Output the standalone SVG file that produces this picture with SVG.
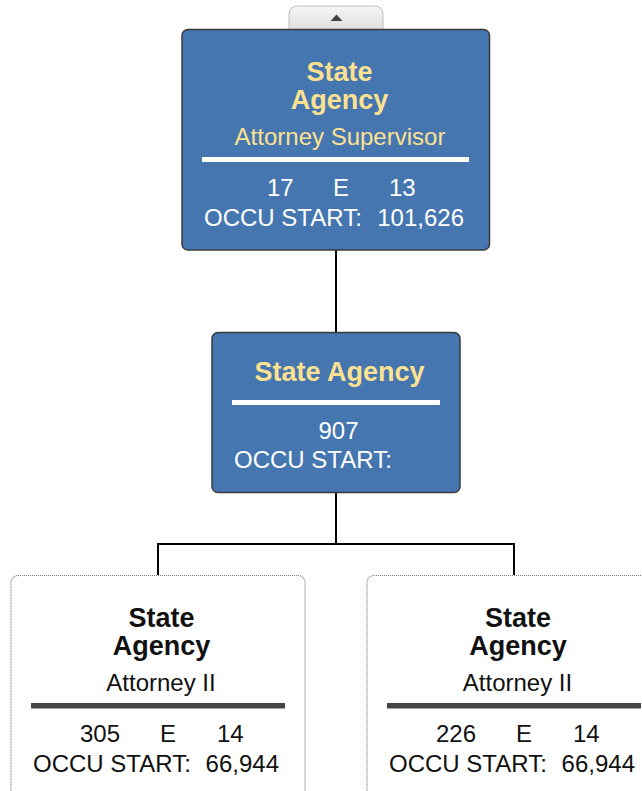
<svg xmlns="http://www.w3.org/2000/svg" width="642" height="791" viewBox="0 0 642 791">
<defs>
<linearGradient id="tabg" x1="0" y1="0" x2="0" y2="1">
<stop offset="0" stop-color="#f7f7f7"/>
<stop offset="1" stop-color="#dedede"/>
</linearGradient>
</defs>
<style>
text{font-family:"Liberation Sans",Arial,sans-serif;white-space:pre}
.blue{fill:#4676b0;stroke:#3b3b3b;stroke-width:1.5}
.white{fill:#ffffff;stroke:#7a7a7a;stroke-width:1.2;stroke-dasharray:1 1}
.tb{font-weight:bold;font-size:27px;text-anchor:middle}
.t{font-size:24px}
.c{text-anchor:middle}
.e{text-anchor:end}
.y{fill:#fbe190}
.w{fill:#ffffff}
.k{fill:#111111}
.conn{stroke:#000;stroke-width:2;fill:none}
</style>
<g id="connectors">
<path class="conn" d="M336 250V332M336 493V544M158 544H514M158 543V575M514 543V575"/>
</g>
<g id="tab">
<path d="M289 30V14a8 8 0 0 1 8-8h78a8 8 0 0 1 8 8V30Z" fill="url(#tabg)" stroke="#bdbdbd" stroke-width="1"/>
<path d="M330.5 21L336.5 14.5L342.5 21Z" fill="#444"/>
</g>
<g id="node-top">
<rect class="blue" x="182" y="29.5" width="307.5" height="220.5" rx="6"/>
<text class="tb y" x="339.5" y="81">State</text>
<text class="tb y" x="339.5" y="109">Agency</text>
<text class="t y c" x="340" y="145">Attorney Supervisor</text>
<rect x="202" y="157" width="267" height="5" fill="#fff"/>
<text class="t w" x="267" y="196">17</text>
<text class="t w" x="333" y="196">E</text>
<text class="t w" x="389" y="196">13</text>
<text class="t w" x="204" y="226">OCCU START:</text>
<text class="t w e" x="464" y="226">101,626</text>
</g>
<g id="node-middle">
<rect class="blue" x="212" y="332.5" width="248" height="160" rx="6"/>
<text class="tb y" x="339.5" y="381">State Agency</text>
<rect x="232" y="400" width="208" height="5" fill="#fff"/>
<text class="t w c" x="338.5" y="439">907</text>
<text class="t w" x="234" y="468">OCCU START:</text>
</g>
<g id="node-left">
<rect class="white" x="11" y="575.5" width="294" height="240" rx="7"/>
<text class="tb k" x="161.5" y="627">State</text>
<text class="tb k" x="161.5" y="655">Agency</text>
<text class="t k c" x="161" y="691">Attorney II</text>
<rect x="31" y="703" width="254" height="5.5" fill="#444"/>
<text class="t k" x="80" y="742">305</text>
<text class="t k" x="160" y="742">E</text>
<text class="t k" x="217" y="742">14</text>
<text class="t k" x="33" y="772">OCCU START:</text>
<text class="t k e" x="279" y="772">66,944</text>
</g>
<g id="node-right">
<rect class="white" x="367" y="575.5" width="294" height="240" rx="7"/>
<text class="tb k" x="518" y="627">State</text>
<text class="tb k" x="518" y="655">Agency</text>
<text class="t k c" x="517.5" y="691">Attorney II</text>
<rect x="387" y="703" width="254" height="5.5" fill="#444"/>
<text class="t k" x="436" y="742">226</text>
<text class="t k" x="516" y="742">E</text>
<text class="t k" x="573" y="742">14</text>
<text class="t k" x="389" y="772">OCCU START:</text>
<text class="t k e" x="635" y="772">66,944</text>
</g>
</svg>
